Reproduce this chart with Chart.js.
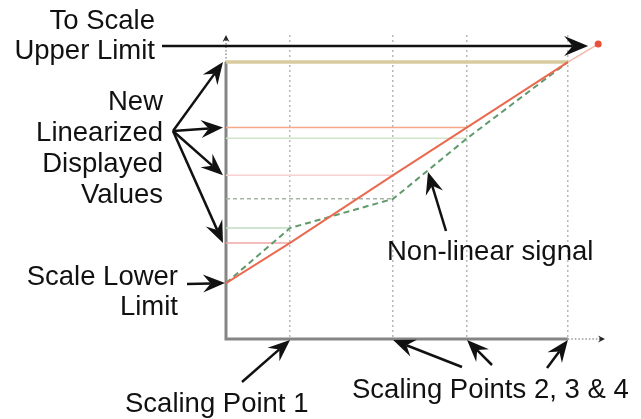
<!DOCTYPE html>
<html>
<head>
<meta charset="utf-8">
<style>
  html, body { margin: 0; padding: 0; background: #fff; }
  #wrap { width: 641px; height: 419px; }
</style>
<script src="https://cdn.jsdelivr.net/npm/chart.js@4.4.1/dist/chart.umd.min.js"></script>
</head>
<body>
<div id="wrap"><canvas id="scaleChart"></canvas></div>
<script>
// input signal positions of the four scaling points
const scalingPoints = [16.9, 44.1, 63.6, 90.2];
// linearized display line: lower limit, then value at each scaling point
const linearValues = [18.4, 31.6, 53.9, 69.6, 91.1];
// non-linear input signal: lower limit, then value at each scaling point
const signalValues = [18.4, 36.5, 46.1, 66.0, 91.1];
// "to scale" upper limit beyond the last scaling point
const extensionPoint = { x: 98.2, y: 97.0 };

const linePts = [{ x: 0, y: linearValues[0] }].concat(
  scalingPoints.map((x, i) => ({ x: x, y: linearValues[i + 1] })));
const signalPts = [{ x: 0, y: signalValues[0] }].concat(
  scalingPoints.map((x, i) => ({ x: x, y: signalValues[i + 1] })));

// faint level lines from the y axis to each scaling point
const redLevelColors = ["#efa8a2", "#f7d0d0", "#f4a886"];
const greenLevelColors = ["#c0dec0", "#a5b5a5", "#cfe6c8"];
const levelSets = [];
for (let i = 0; i < 3; i++) {
  levelSets.push({
    data: [{ x: 0, y: linearValues[i + 1] }, { x: scalingPoints[i], y: linearValues[i + 1] }],
    borderColor: redLevelColors[i], borderWidth: 1.5, order: 3
  });
  levelSets.push({
    data: [{ x: 0, y: signalValues[i + 1] }, { x: scalingPoints[i], y: signalValues[i + 1] }],
    borderColor: greenLevelColors[i], borderWidth: 1.5, order: 3,
    borderDash: i === 1 ? [4, 3] : []
  });
}
levelSets.push({
  data: [{ x: 0, y: linearValues[4] }, { x: scalingPoints[3], y: linearValues[4] }],
  borderColor: "#d8cb9f", borderWidth: 3.5, order: 3
});

const FONT = '27.5px "Liberation Sans", Arial, sans-serif';

function arrow(ctx, x1, y1, x2, y2, len, half) {
  const a = Math.atan2(y2 - y1, x2 - x1);
  const c = Math.cos(a), s = Math.sin(a);
  ctx.beginPath();
  ctx.moveTo(x1, y1);
  ctx.lineTo(x2 - len * 0.65 * c, y2 - len * 0.65 * s);
  ctx.stroke();
  ctx.beginPath();
  ctx.moveTo(x2, y2);
  ctx.lineTo(x2 - len * c + half * s, y2 - len * s - half * c);
  ctx.lineTo(x2 - len * 0.65 * c, y2 - len * 0.65 * s);
  ctx.lineTo(x2 - len * c - half * s, y2 - len * s + half * c);
  ctx.closePath();
  ctx.fill();
}

const diagram = {
  id: "diagram",
  beforeDatasetsDraw(chart) {
    const ctx = chart.ctx, xs = chart.scales.x, ys = chart.scales.y;
    const x0 = xs.getPixelForValue(0), y0 = ys.getPixelForValue(0);
    const xEnd = xs.getPixelForValue(scalingPoints[3]);
    const yTop = ys.getPixelForValue(linearValues[4]);
    ctx.save();
    // axes: solid up to the limits, dotted beyond
    ctx.strokeStyle = "#858585";
    ctx.lineWidth = 3;
    ctx.beginPath();
    ctx.moveTo(x0, yTop); ctx.lineTo(x0, y0); ctx.lineTo(xEnd, y0);
    ctx.stroke();
    ctx.lineWidth = 2;
    ctx.strokeStyle = "#b0b0b0";
    ctx.setLineDash([1.5, 2]);
    ctx.beginPath();
    ctx.moveTo(x0, yTop); ctx.lineTo(x0, chart.chartArea.top + 4);
    ctx.moveTo(xEnd, y0); ctx.lineTo(chart.chartArea.right - 4, y0);
    ctx.stroke();
    ctx.setLineDash([]);
    ctx.fillStyle = "#222";
    ctx.strokeStyle = "#222";
    ctx.lineWidth = 1;
    arrow(ctx, x0, chart.chartArea.top + 6, x0, chart.chartArea.top, 7, 3.5);
    arrow(ctx, chart.chartArea.right - 6, y0, chart.chartArea.right, y0, 7, 3.5);
    ctx.restore();
  },
  afterDraw(chart) {
    const ctx = chart.ctx, xs = chart.scales.x, ys = chart.scales.y;
    const x0 = xs.getPixelForValue(0), y0 = ys.getPixelForValue(0);
    ctx.save();
    ctx.fillStyle = "#111";
    ctx.strokeStyle = "#111";
    ctx.lineWidth = 2.5;
    ctx.font = FONT;

    // labels on the left
    ctx.textAlign = "right";
    ctx.fillText("To Scale", 155, 29);
    ctx.fillText("Upper Limit", 155, 59);
    ["New", "Linearized", "Displayed", "Values"].forEach((t, i) => ctx.fillText(t, 163, 110 + i * 31));
    ctx.fillText("Scale Lower", 178, 285);
    ctx.fillText("Limit", 178, 315);
    ctx.textAlign = "left";
    ctx.fillText("Non-linear signal", 387, 260);
    ctx.fillText("Scaling Point 1", 125, 412);
    ctx.fillText("Scaling Points 2, 3 & 4", 352, 398);

    // upper limit arrow
    const ex = xs.getPixelForValue(extensionPoint.x), ey = ys.getPixelForValue(extensionPoint.y);
    arrow(ctx, 162, ey + 2, ex - 10, ey + 2, 24, 10);

    // fan of arrows to linearized values
    [4, 3, 2, 1].forEach((k) => {
      arrow(ctx, 173, 131, x0 - 3, ys.getPixelForValue(linearValues[k]), 22, 9);
    });
    // lower limit
    arrow(ctx, 187, 284, x0 - 1, ys.getPixelForValue(linearValues[0]), 22, 9);

    // non-linear signal
    arrow(ctx, 446, 231, 428, 172, 22, 9);

    // scaling points
    const tails = [[242, 382], [462, 367], [492, 365], [547, 368]];
    scalingPoints.forEach((v, i) => {
      arrow(ctx, tails[i][0], tails[i][1], xs.getPixelForValue(v), y0 + 1, 22, 9);
    });
    ctx.restore();
  }
};

new Chart(document.getElementById("scaleChart"), {
  type: "line",
  data: {
    datasets: [
      {
        data: linePts,
        borderColor: "#ea6a50",
        borderWidth: 2,
        order: 0
      },
      {
        data: [linePts[linePts.length - 1], extensionPoint],
        borderColor: "#f4b8a8",
        borderWidth: 1.5,
        pointRadius: [0, 3.5],
        pointBackgroundColor: "#e8503a",
        pointBorderWidth: 0,
        order: 0
      },
      {
        data: signalPts,
        borderColor: "#5f9a6c",
        borderWidth: 2,
        borderDash: [6, 4],
        order: 1
      }
    ].concat(levelSets)
  },
  options: {
    responsive: true,
    maintainAspectRatio: false,
    animation: false,
    layout: { padding: { left: 226, right: 36, top: 35, bottom: 80 } },
    elements: { point: { radius: 0 }, line: { tension: 0 } },
    plugins: { legend: { display: false }, tooltip: { enabled: false } },
    scales: {
      x: {
        type: "linear",
        min: 0,
        max: 100,
        afterBuildTicks: (scale) => { scale.ticks = scalingPoints.map((v) => ({ value: v })); },
        ticks: { display: false },
        grid: { color: "#b8b8b8", lineWidth: 1.5, drawTicks: false },
        border: { display: false, dash: [2, 3] }
      },
      y: {
        type: "linear",
        min: 0,
        max: 100,
        display: false
      }
    }
  },
  plugins: [diagram]
});
</script>
</body>
</html>
